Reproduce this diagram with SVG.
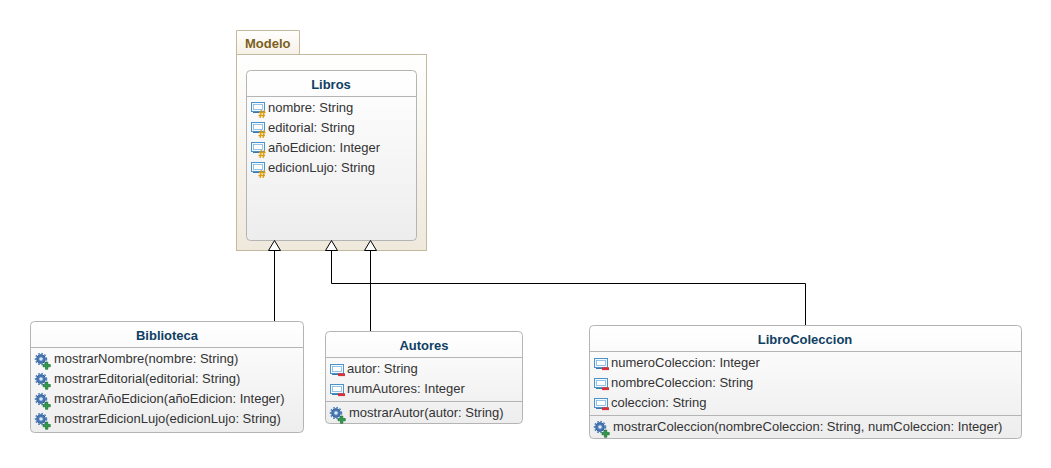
<svg xmlns="http://www.w3.org/2000/svg" width="1051" height="468" viewBox="0 0 1051 468">
<style>
text{font-family:"Liberation Sans",Arial,sans-serif;font-size:13px;fill:#333}
.t{font-weight:bold;fill:#0f3f63;text-anchor:middle}
.box{stroke:#b4b4b4;stroke-width:1;fill:url(#g)}
.sep{stroke:#b4b4b4;stroke-width:1;fill:none}
.c{fill:none;stroke:#000;stroke-width:1}
.a{fill:#fff;stroke:#000;stroke-width:1}
</style>
<defs>
<linearGradient id="g" x1="0" y1="0" x2="0" y2="1"><stop offset="0" stop-color="#fff"/><stop offset="1" stop-color="#ededed"/></linearGradient>
<linearGradient id="p" x1="0" y1="0" x2="0" y2="1"><stop offset="0" stop-color="#fff"/><stop offset="1" stop-color="#efe9dc"/></linearGradient>
<linearGradient id="tab" x1="0" y1="0" x2="0" y2="1"><stop offset="0" stop-color="#fff"/><stop offset="1" stop-color="#f6f1e6"/></linearGradient>
<g id="fld"><rect x="0.500" y="0.500" width="13" height="9" fill="#f4f9fd" stroke="#4a93cc"/><rect x="2.500" y="2.500" width="9" height="5" fill="#fff" stroke="#7fb3dc" stroke-width="0.800"/><path d="M2 10.500h11" stroke="#3c78a8" stroke-width="1"/></g>
<g id="prot"><use href="#fld"/><path d="M10.300 8l-1.200 8M13.300 8l-1.200 8M8 10.500h6.500M7.500 13.500h6.500" stroke="#dc9c10" stroke-width="1.300" fill="none"/></g>
<g id="priv"><use href="#fld"/><rect x="8" y="9.300" width="7" height="2.800" fill="#d8333a"/></g>
<g id="op"><circle cx="6" cy="6" r="4.300" fill="#4a79b4" stroke="#2c5a96" stroke-width="1"/><circle cx="6" cy="6" r="5.500" fill="none" stroke="#4c7fbe" stroke-width="1.500" stroke-dasharray="1.700 1.500"/><circle cx="6" cy="6" r="1.800" fill="#dbe7f5"/><path d="M8 11.500h2.500v-2.500h2.300v2.500h2.500v2.300h-2.500v2.500h-2.300v-2.500h-2.500z" fill="#2f9a4a" stroke="#16662c" stroke-width="0.600"/></g>
</defs>
<g id="Modelo">
<path d="M236.500 54.500V30.500H299.500V54.500" fill="url(#tab)" stroke="#c4b99f"/>
<rect x="236.500" y="54.500" width="190" height="196" fill="url(#p)" stroke="#c4b99f"/>
<text x="245" y="48" style="font-weight:bold;fill:#7d5f21">Modelo</text>
</g>
<g id="Libros">
<rect class="box" x="246.500" y="70.500" width="170" height="170" rx="4"/>
<path class="sep" d="M247 96.500H416"/>
<text class="t" x="331" y="89">Libros</text>
<use href="#prot" x="251" y="102"/><text x="268" y="112">nombre: String</text>
<use href="#prot" x="251" y="122"/><text x="268" y="132">editorial: String</text>
<use href="#prot" x="251" y="142"/><text x="268" y="152">añoEdicion: Integer</text>
<use href="#prot" x="251" y="162"/><text x="268" y="172">edicionLujo: String</text>
</g>
<g id="Biblioteca">
<rect class="box" x="30.500" y="321.500" width="273" height="111" rx="4"/>
<path class="sep" d="M31 347.500H303"/>
<text class="t" x="167" y="340">Biblioteca</text>
<use href="#op" x="35" y="353"/><text x="54" y="363">mostrarNombre(nombre: String)</text>
<use href="#op" x="35" y="373"/><text x="54" y="383">mostrarEditorial(editorial: String)</text>
<use href="#op" x="35" y="393"/><text x="54" y="403">mostrarAñoEdicion(añoEdicion: Integer)</text>
<use href="#op" x="35" y="413"/><text x="54" y="423">mostrarEdicionLujo(edicionLujo: String)</text>
</g>
<g id="Autores">
<rect class="box" x="325.500" y="331.500" width="197" height="92" rx="4"/>
<path class="sep" d="M326 357.500H522M326 401.500H522"/>
<text class="t" x="424" y="350">Autores</text>
<use href="#priv" x="330" y="364"/><text x="347" y="373">autor: String</text>
<use href="#priv" x="330" y="384"/><text x="347" y="393">numAutores: Integer</text>
<use href="#op" x="330" y="407"/><text x="349" y="417">mostrarAutor(autor: String)</text>
</g>
<g id="LibroColeccion">
<rect class="box" x="589.500" y="325.500" width="432" height="113" rx="4"/>
<path class="sep" d="M590 351.500H1021M590 415.500H1021"/>
<text class="t" x="805" y="344">LibroColeccion</text>
<use href="#priv" x="594" y="358"/><text x="611" y="367">numeroColeccion: Integer</text>
<use href="#priv" x="594" y="378"/><text x="611" y="387">nombreColeccion: String</text>
<use href="#priv" x="594" y="398"/><text x="611" y="407">coleccion: String</text>
<use href="#op" x="594" y="421"/><text x="613" y="431">mostrarColeccion(nombreColeccion: String, numColeccion: Integer)</text>
</g>
<g id="connectors">
<path class="c" d="M274.500 321V250"/>
<path class="c" d="M370.500 331V250"/>
<path class="c" d="M805.500 325V283.500H331.500V250"/>
<path class="a" d="M274.500 240.500L268.500 250.500H280.500Z"/>
<path class="a" d="M331.500 240.500L325.500 250.500H337.500Z"/>
<path class="a" d="M370.500 240.500L364.500 250.500H376.500Z"/>
</g>
</svg>
